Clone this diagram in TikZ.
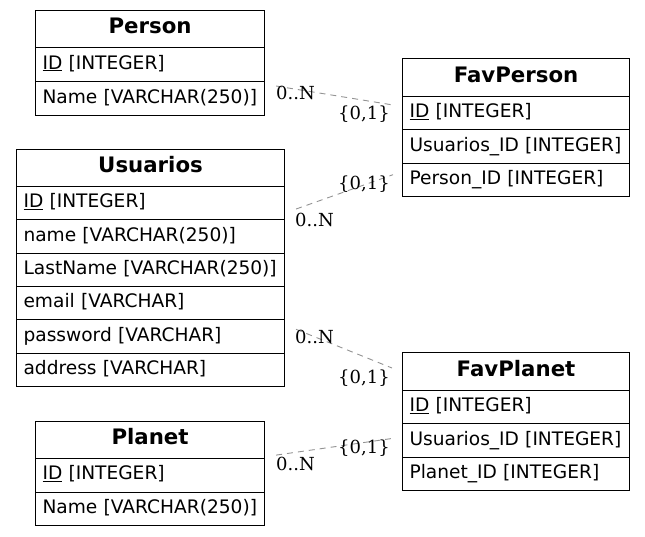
\documentclass[tikz,border=0pt]{standalone}
\usepackage{fontspec}
\setmainfont{DejaVu Sans}
\newfontfamily\lblfont{DejaVu Serif}
\usetikzlibrary{calc}
\newcommand{\cellt}[1]{\mbox{#1}}
\tikzset{
  x=1pt,y=-1pt,
  cellbase/.style={draw=black, line width=1.1pt, anchor=north west, inner xsep=7pt, inner ysep=0pt,
    text height=14pt, text depth=5pt, font=\fontsize{18.6}{22}\selectfont},
  titlecell/.style={cellbase, minimum height=#1, align=center, font=\fontsize{21.3}{24}\selectfont\bfseries},
  rowcell/.style={cellbase, minimum height=#1, align=left},
  rel/.style={draw=gray!85, line width=0.9pt, dash pattern=on 6pt off 5pt},
  card/.style={inner sep=0pt, anchor=base west, font=\lblfont\fontsize{18}{20}\selectfont}
}
\begin{document}
\begin{tikzpicture}
\useasboundingbox (0,0) rectangle (645,536);
% Person
\node[titlecell=37pt, text width=215pt] (pT) at (35,10) {Person};
\node[rowcell=34pt, text width=215pt] (pID) at (35,47) {\cellt{\underline{ID} [INTEGER]}};
\node[rowcell=34pt, text width=215pt] (pName) at (35,81) {\cellt{Name [VARCHAR(250)]}};
% Usuarios
\node[titlecell=37pt, text width=254pt] (uT) at (16,149) {Usuarios};
\node[rowcell=33.33pt, text width=254pt] (uID) at (16,186) {\cellt{\underline{ID} [INTEGER]}};
\node[rowcell=33.33pt, text width=254pt] (uName) at (16,219.33) {\cellt{name [VARCHAR(250)]}};
\node[rowcell=33.33pt, text width=254pt] (uLast) at (16,252.67) {\cellt{LastName [VARCHAR(250)]}};
\node[rowcell=33.33pt, text width=254pt] (uMail) at (16,286) {\cellt{email [VARCHAR]}};
\node[rowcell=33.33pt, text width=254pt] (uPass) at (16,319.33) {\cellt{password [VARCHAR]}};
\node[rowcell=33.33pt, text width=254pt] (uAddr) at (16,352.67) {\cellt{address [VARCHAR]}};
% FavPerson
\node[titlecell=38pt, text width=213pt] (fpT) at (402,58) {FavPerson};
\node[rowcell=33.33pt, text width=213pt] (fpID) at (402,96) {\cellt{\underline{ID} [INTEGER]}};
\node[rowcell=33.33pt, text width=213pt] (fpU) at (402,129.33) {\cellt{Usuarios\_ID [INTEGER]}};
\node[rowcell=33.33pt, text width=213pt] (fpP) at (402,162.67) {\cellt{Person\_ID [INTEGER]}};
% FavPlanet
\node[titlecell=38pt, text width=213pt] (flT) at (402,352) {FavPlanet};
\node[rowcell=33.33pt, text width=213pt] (flID) at (402,390) {\cellt{\underline{ID} [INTEGER]}};
\node[rowcell=33.33pt, text width=213pt] (flU) at (402,423.33) {\cellt{Usuarios\_ID [INTEGER]}};
\node[rowcell=33.33pt, text width=213pt] (flP) at (402,456.67) {\cellt{Planet\_ID [INTEGER]}};
% Planet
\node[titlecell=37pt, text width=215pt] (plT) at (35,421) {Planet};
\node[rowcell=33.5pt, text width=215pt] (plID) at (35,458) {\cellt{\underline{ID} [INTEGER]}};
\node[rowcell=33.5pt, text width=215pt] (plName) at (35,491.5) {\cellt{Name [VARCHAR(250)]}};
% connector end points
\coordinate (e1s) at ($(pName.north east)+(11,5)$);
\coordinate (e1t) at ($(fpID.north west)+(-9,9)$);
\coordinate (e2s) at ($(uID.north east)+(11,23)$);
\coordinate (e2t) at ($(fpP.north west)+(-9,12)$);
\coordinate (e3s) at ($(uPass.north east)+(11,10)$);
\coordinate (e3t) at ($(flT.north west)+(-10,16)$);
\coordinate (e4s) at ($(plT.south east)+(11,-4)$);
\coordinate (e4t) at ($(flU.north west)+(-9,15)$);
\draw[rel] (e1s) -- (e1t);
\draw[rel] (e2s) -- (e2t);
\draw[rel] (e3s) -- (e3t);
\draw[rel] (e4s) -- (e4t);
% cardinalities
\node[card] (c1a) at (276,99.5) {0..N};
\node[card] (c1b) at (338,119.5) {\{0,1\}};
\node[card] (c2b) at (338,189.5) {\{0,1\}};
\node[card] (c2a) at (295,226.5) {0..N};
\node[card] (c3a) at (295,343.5) {0..N};
\node[card] (c3b) at (338,383.5) {\{0,1\}};
\node[card] (c4b) at (338,453.5) {\{0,1\}};
\node[card] (c4a) at (276,470.5) {0..N};
\end{tikzpicture}
\end{document}
